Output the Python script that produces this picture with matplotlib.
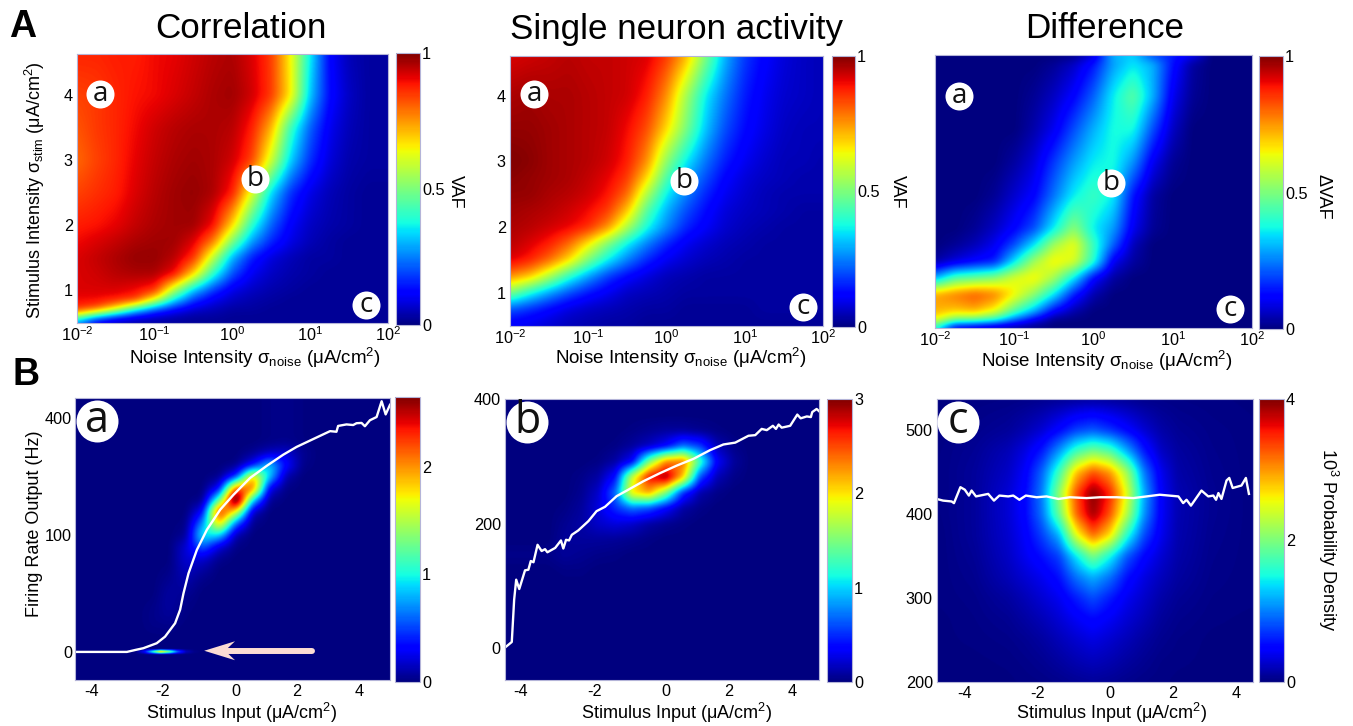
import numpy as np
import matplotlib
matplotlib.use('Agg')
import matplotlib.pyplot as plt
from matplotlib.cm import ScalarMappable
from matplotlib.colors import Normalize

# panel A grids, rows go from low to high stimulus
log_noise = [-2,-1.75,-1.5,-1.25,-1,-.75,-.5,-.25,0,.25,.5,.75,1,1.25,1.5,1.75,2]

corr_stim = [.5,.6,.7,.85,1,1.25,1.5,1.75,2,2.5,3,3.5,4,4.6]
corr_vaf = [
 [.2,.06,.03,.02,.02,.02,.02,.02,.02,.02,.02,.02,.02,.02,.02,.02,.02],
 [.55,.32,.18,.12,.08,.05,.03,.03,.02,.02,.02,.02,.02,.02,.02,.02,.02],
 [.86,.8,.62,.36,.2,.12,.07,.05,.03,.03,.02,.02,.02,.02,.02,.02,.02],
 [.9,.9,.88,.85,.62,.35,.18,.1,.06,.04,.03,.02,.02,.02,.02,.02,.02],
 [.92,.92,.92,.9,.86,.56,.32,.18,.09,.06,.04,.03,.02,.02,.02,.02,.02],
 [.92,.93,.95,.96,.96,.9,.68,.4,.2,.1,.06,.04,.03,.02,.02,.02,.02],
 [.92,.94,.96,.98,.98,.95,.86,.58,.3,.15,.08,.05,.03,.03,.02,.02,.02],
 [.9,.92,.94,.96,.97,.97,.92,.78,.5,.28,.16,.09,.05,.03,.02,.02,.02],
 [.88,.89,.91,.94,.96,.97,.97,.9,.68,.4,.22,.11,.06,.04,.03,.02,.02],
 [.84,.86,.88,.92,.95,.97,.98,.96,.88,.62,.34,.17,.09,.05,.03,.02,.02],
 [.8,.84,.87,.91,.94,.96,.97,.96,.93,.84,.6,.33,.17,.08,.04,.03,.03],
 [.82,.85,.87,.9,.93,.95,.96,.96,.95,.88,.72,.42,.22,.1,.05,.03,.03],
 [.84,.85,.87,.89,.9,.92,.94,.96,.97,.93,.85,.66,.32,.13,.06,.03,.03],
 [.87,.87,.88,.88,.9,.91,.93,.95,.96,.92,.85,.65,.36,.12,.05,.03,.03],
]

single_stim = [.5,.75,1,1.25,1.5,1.75,2,2.25,2.5,2.75,3,3.5,4,4.6]
single_vaf = [
 [.1,.09,.07,.05,.04,.03,.03,.02,.02,.02,.02,.02,.02,.02,.02,.02,.02],
 [.2,.16,.12,.08,.06,.05,.04,.03,.03,.02,.02,.02,.02,.03,.03,.03,.03],
 [.5,.38,.28,.2,.14,.1,.06,.05,.04,.03,.03,.03,.03,.03,.03,.03,.03],
 [.76,.7,.56,.4,.28,.18,.12,.08,.05,.04,.03,.03,.03,.03,.03,.03,.03],
 [.92,.88,.8,.68,.5,.36,.25,.16,.1,.07,.05,.04,.03,.03,.03,.03,.03],
 [.95,.92,.88,.8,.66,.5,.36,.25,.16,.1,.07,.05,.04,.03,.03,.03,.03],
 [.96,.95,.93,.91,.87,.76,.56,.38,.26,.16,.11,.07,.05,.04,.03,.03,.03],
 [.97,.96,.95,.93,.9,.85,.7,.45,.3,.2,.13,.08,.06,.05,.04,.03,.03],
 [.98,.98,.96,.95,.93,.89,.8,.56,.36,.25,.16,.1,.07,.05,.04,.04,.04],
 [.99,.98,.97,.96,.94,.91,.85,.68,.44,.3,.2,.12,.08,.06,.05,.04,.04],
 [1.0,.99,.97,.96,.95,.93,.88,.76,.52,.36,.24,.15,.1,.07,.05,.05,.04],
 [.98,.98,.97,.96,.95,.94,.9,.83,.68,.5,.32,.2,.13,.09,.06,.05,.05],
 [.96,.97,.96,.96,.95,.94,.93,.88,.76,.55,.36,.24,.15,.1,.07,.06,.05],
 [.92,.93,.94,.95,.94,.94,.93,.92,.85,.72,.5,.3,.18,.12,.08,.06,.05],
]

diff_stim = [.5,.6,.75,1,1.25,1.5,1.75,2,2.5,3,3.5,4,4.5,4.6]
diff_vaf = [
 [.35,.05,.02,0,0,0,0,0,0,0,0,0,0,0,0,0,0],
 [.62,.45,.42,.35,.2,.08,0,0,0,0,0,0,0,0,0,0,0],
 [.72,.7,.72,.64,.45,.3,.12,.04,0,0,0,0,0,0,0,0,0],
 [.74,.78,.82,.78,.65,.52,.35,.15,.04,0,0,0,0,0,0,0,0],
 [.3,.45,.48,.52,.62,.66,.55,.35,.12,.03,0,0,0,0,0,0,0],
 [.03,.08,.12,.15,.35,.55,.66,.62,.4,.1,.03,0,0,0,0,0,0],
 [0,.02,.05,.1,.2,.35,.55,.64,.42,.22,.05,0,0,0,0,0,0],
 [0,0,.02,.06,.12,.2,.36,.52,.36,.28,.1,.02,0,0,0,0,0],
 [0,0,0,.02,.07,.12,.24,.36,.42,.36,.14,.03,0,0,0,0,0],
 [0,0,0,0,.03,.08,.18,.28,.36,.38,.27,.1,.02,0,0,0,0],
 [0,0,0,0,0,.04,.1,.2,.3,.38,.38,.2,.06,0,0,0,0],
 [0,0,0,0,0,.02,.06,.12,.22,.36,.46,.3,.1,.02,0,0,0],
 [0,0,0,0,0,0,.02,.06,.14,.28,.35,.3,.14,.03,0,0,0],
 [0,0,0,0,0,0,0,.01,.08,.3,.33,.2,.15,.1,0,0,0],
]

# panel B, a: y is square root of the rate because the axis is like that
a_x = [-3,-2.5,-2,-1.5,-1,-.5,0,.5,1,1.5,2,2.5,3]
a_root = [1,2,3,4,5,6,7,8,9,10,11,12,13,14,15,16,17,18]
a_dens = [
 [0,0,0,0,0,0,0,0,0,0,0,0,0],
 [0,.02,.02,0,0,0,0,0,0,0,0,0,0],
 [0,.03,.06,.01,0,0,0,0,0,0,0,0,0],
 [0,.02,.08,.02,0,0,0,0,0,0,0,0,0],
 [0,0,.08,.05,0,0,0,0,0,0,0,0,0],
 [0,0,.05,.1,.02,0,0,0,0,0,0,0,0],
 [0,0,.02,.15,.08,0,0,0,0,0,0,0,0],
 [0,0,0,.2,.2,.04,0,0,0,0,0,0,0],
 [0,0,0,.2,.6,.2,.02,0,0,0,0,0,0],
 [0,0,0,.05,1.0,.9,.1,0,0,0,0,0,0],
 [0,0,0,.02,.7,1.9,.6,.03,0,0,0,0,0],
 [0,0,0,0,.3,2.4,1.7,.15,0,0,0,0,0],
 [0,0,0,0,.03,1.2,3.1,.9,.05,0,0,0,0],
 [0,0,0,0,0,.3,2.2,2.2,.25,.02,0,0,0],
 [0,0,0,0,0,.03,.4,1.9,.9,.1,0,0,0],
 [0,0,0,0,0,0,.02,.3,.9,.35,.03,0,0],
 [0,0,0,0,0,0,0,.05,.15,.2,.05,0,0],
 [0,0,0,0,0,0,0,0,.02,.03,.01,0,0],
]
strip_x = [-3,-2.75,-2.5,-2.25,-2,-1.75,-1.5,-1.25,-1]
strip_root = [-.25,-.1,0,.1,.25]
strip_dens = [
 [0,0,0,0,0,0,0,0,0],
 [.01,.2,.7,1.2,.9,.4,.1,.02,0],
 [.02,.3,1.0,1.8,1.3,.6,.15,.03,0],
 [.01,.2,.7,1.2,.9,.4,.1,.02,0],
 [0,0,0,0,0,0,0,0,0],
]

b_x = [-3.5,-3,-2.5,-2,-1.5,-1,-.5,0,.5,1,1.5,2,2.5,3]
b_rate = [100,125,150,175,200,225,250,275,300,325,350,375]
b_dens = [
 [0,0,0,0,0,0,0,0,0,0,0,0,0,0],
 [0,.02,.02,0,0,0,0,0,0,0,0,0,0,0],
 [.03,.07,.05,.03,.02,0,0,0,0,0,0,0,0,0],
 [0,.07,.08,.08,.07,.05,.02,0,0,0,0,0,0,0],
 [0,.05,.1,.2,.25,.2,.1,.05,.02,0,0,0,0,0],
 [0,.02,.08,.25,.5,.7,.6,.35,.1,.03,0,0,0,0],
 [0,0,.05,.2,.7,2.0,2.2,1.5,.5,.12,.03,0,0,0],
 [0,0,.03,.1,.4,1.8,2.7,2.95,2.1,.6,.15,.03,0,0],
 [0,0,0,.02,.1,.35,1.5,2.3,2.4,1.3,.35,.08,0,0],
 [0,0,0,0,.02,.08,.18,.35,.7,.55,.15,.03,0,0],
 [0,0,0,0,0,.02,.05,.08,.08,.05,.02,0,0,0],
 [0,0,0,0,0,0,0,0,0,0,0,0,0,0],
]

c_x = [-5,-4,-3,-2.5,-2,-1.5,-1,-.5,0,.5,1,1.5,2,3,4.2]
c_rate = [200,225,250,275,300,325,350,375,400,425,450,475,500,537]
c_dens = [
 [.01,.01,.01,.02,.03,.05,.08,.1,.08,.05,.03,.02,.01,.01,.01],
 [.01,.01,.02,.04,.07,.12,.18,.22,.18,.12,.07,.03,.02,.01,.01],
 [.01,.02,.04,.07,.12,.2,.28,.35,.28,.2,.12,.06,.03,.01,.01],
 [.01,.03,.07,.13,.2,.3,.42,.52,.42,.3,.2,.1,.05,.02,.01],
 [.02,.04,.12,.2,.3,.4,.6,.8,.6,.4,.27,.15,.08,.03,.02],
 [.02,.06,.2,.3,.4,.55,.95,1.2,.95,.55,.35,.22,.12,.04,.02],
 [.02,.08,.25,.4,.55,.75,1.4,2.0,1.5,.85,.5,.3,.15,.05,.02],
 [.02,.1,.28,.45,.75,1.2,2.5,3.2,2.7,1.6,.8,.4,.17,.06,.02],
 [.03,.1,.3,.5,.95,1.9,3.2,3.9,3.3,2.3,1.1,.45,.18,.07,.02],
 [.03,.1,.3,.5,1.0,2.1,3.3,4.0,3.5,2.5,1.2,.45,.18,.07,.02],
 [.03,.1,.25,.45,.9,1.7,2.8,3.3,3.0,2.2,1.0,.4,.15,.06,.02],
 [.03,.08,.2,.35,.6,1.1,1.7,2.0,1.8,1.2,.6,.25,.12,.05,.02],
 [.02,.05,.1,.18,.3,.5,.75,.85,.7,.5,.3,.15,.08,.04,.02],
 [.01,.02,.03,.04,.06,.08,.1,.12,.1,.08,.05,.04,.03,.02,.01],
]

# tuning curves
a_line_x = [-4.8,-3.26,-3.0,-2.77,-2.37,-2.12,-1.82,-1.67,-1.57,-1.42,-1.17,-.87,-.47,-.08,.42,.92,1.41,1.81,2.41,2.81,3.0,3.05,3.3,3.5,3.6,3.75,3.85,4.0,4.2,4.35,4.47,4.6]
a_line_y = [0,0,.03,.1,.55,1.7,6,13,25,45,76,109,148,180,221,253,284,307,336,356,354,373,378,376,382,383,372,392,403,459,412,446]

b_line_x = [-4.73,-4.55,-4.48,-4.42,-4.33,-4.16,-4.06,-3.99,-3.91,-3.79,-3.67,-3.57,-3.5,-3.27,-3.1,-3.03,-2.95,-2.86,-2.78,-2.59,-2.29,-2.05,-1.8,-1.46,-1.16,-.67,-.18,.31,.81,1.3,1.69,2.04,2.43,2.63,2.82,2.97,3.15,3.24,3.32,3.41,3.66,3.87,3.97,4.15,4.27,4.31,4.44,4.52]
b_line_y = [2,10,78,110,95,125,126,140,138,166,156,159,154,161,173,160,174,173,182,189,204,220,227,244,253,268,281,293,304,318,327,330,341,342,352,350,357,352,359,354,357,375,369,372,371,379,384,380]

c_line_x = [-5.11,-4.92,-4.67,-4.6,-4.41,-4.28,-4.16,-4.08,-3.95,-3.59,-3.42,-3.26,-3.0,-2.85,-2.67,-2.48,-2.16,-1.87,-1.52,-1.18,-.69,-.29,.2,.69,1.08,1.47,2.02,2.16,2.26,2.39,2.7,2.9,3.05,3.13,3.2,3.29,3.44,3.52,3.62,3.88,4.01,4.1]
c_line_y = [418,416,415,413,432,429,422,428,421,424,416,422,421,422,417,422,420,421,418,420,419,420,420,419,421,423,421,413,417,410,428,421,422,417,425,418,440,443,431,434,443,424]

# tick labels in B do not sit evenly in the figure
tick_labels_b = ['-4','-2','0','2','4']
ticks_a = [-4.33,-2.18,0,1.82,3.67]
ticks_bc = [-4.28,-2.12,0,1.86,3.72]

W, H = 1353, 726
plt.rcParams['font.family'] = ['Liberation Sans', 'DejaVu Sans']
plt.rcParams['mathtext.fontset'] = 'custom'
plt.rcParams['mathtext.rm'] = 'Liberation Sans'
plt.rcParams['mathtext.it'] = 'Liberation Sans:italic'
plt.rcParams['mathtext.bf'] = 'Liberation Sans:bold'
plt.rcParams['mathtext.default'] = 'regular'
EDGE = '#b4b4d8'
TICK = 11.7
LAB = 13

fig = plt.figure(figsize=(W/100, H/100), dpi=100)


def px(x, y):
    return x/W, 1-y/H


def box(x0, y0, x1, y1):
    ax = fig.add_axes([x0/W, 1-y1/H, (x1-x0)/W, (y1-y0)/H])
    ax.tick_params(length=0, labelsize=TICK, pad=3)
    for s in ax.spines.values():
        s.set_color(EDGE)
        s.set_linewidth(.8)
    return ax


def fine(z, xs, ys, xlim, ylim, k=9, nx=500, ny=400):
    # put the read grid on a fine mesh and soften it a bit
    gx = np.linspace(xlim[0], xlim[1], nx)
    gy = np.linspace(ylim[0], ylim[1], ny)
    t = np.array([np.interp(gx, xs, r) for r in z])
    out = np.array([np.interp(gy, ys, c) for c in t.T]).T
    ker = np.ones(k)/k
    for _ in range(2):
        pad = np.pad(out, k, mode='edge')
        pad = np.apply_along_axis(lambda v: np.convolve(v, ker, 'same'), 0, pad)
        pad = np.apply_along_axis(lambda v: np.convolve(v, ker, 'same'), 1, pad)
        out = pad[k:-k, k:-k]
    return out


def heat(ax, img, xlim, ylim, vmax):
    ax.imshow(img, origin='lower', extent=[xlim[0], xlim[1], ylim[0], ylim[1]],
              aspect='auto', cmap='jet', vmin=0, vmax=vmax, interpolation='bilinear')
    ax.set_xlim(xlim)
    ax.set_ylim(ylim)


def cbar(x0, y0, x1, y1, vmax, ticks, labels):
    cax = box(x0, y0, x1, y1)
    cb = fig.colorbar(ScalarMappable(Normalize(0, vmax), 'jet'), cax=cax)
    cb.set_ticks(ticks)
    cb.set_ticklabels(labels)
    cb.ax.tick_params(length=0, labelsize=TICK, pad=1.5)
    cb.outline.set_edgecolor(EDGE)
    cb.outline.set_linewidth(.8)


def mark(ax, x, y, letter, diam, size):
    fx, fy = px(x, y)
    ax.scatter([fx], [fy], s=(diam*.72)**2, color='white', linewidths=0,
               transform=fig.transFigure, clip_on=False, zorder=6)
    fig.text(fx, fy, letter, ha='center', va='center', fontsize=size,
             family='Open Sans', color='#111111', zorder=7)


def label(x, y, s, size=LAB, rot=0, **kw):
    fx, fy = px(x, y)
    fig.text(fx, fy, s, ha='center', va='center', fontsize=size, rotation=rot, **kw)


noise_label = 'Noise Intensity σ$_{noise}$ (μA/cm$^2$)'
input_label = 'Stimulus Input (μA/cm$^2$)'
dec_ticks = [-2, -1, 0, 1, 2]
dec_labels = ['10$^{-2}$', '10$^{-1}$', '10$^{0}$', '10$^{1}$', '10$^{2}$']

# row A
ax = box(77, 54, 388, 323)
xl, yl = (-2, 2), (.5, 4.63)
heat(ax, fine(corr_vaf, log_noise, corr_stim, xl, yl, k=15), xl, yl, 1)
ax.set_xticks(dec_ticks, dec_labels)
ax.set_yticks([1, 2, 3, 4])
ax.tick_params(axis='x', pad=2)
mark(ax, 100, 94, 'a', 28, 20)
mark(ax, 255, 179, 'b', 28, 20)
mark(ax, 366, 305, 'c', 28, 20)
cbar(396, 53, 420, 325, 1, [0, .5, 1], ['0', '0.5', '1'])

ax = box(510, 56, 823, 326)
xl, yl = (-2, 2), (.5, 4.6)
heat(ax, fine(single_vaf, log_noise, single_stim, xl, yl, k=17), xl, yl, 1)
ax.set_xticks(dec_ticks, dec_labels)
ax.set_yticks([1, 2, 3, 4])
ax.tick_params(axis='x', pad=2)
mark(ax, 534, 94, 'a', 28, 20)
mark(ax, 684, 181, 'b', 28, 20)
mark(ax, 803, 307, 'c', 28, 20)
cbar(832, 56, 855, 327, 1, [0, .5, 1], ['0', '0.5', '1'])

ax = box(935, 55, 1252, 328)
xl, yl = (-2, 2), (.5, 4.62)
heat(ax, fine(diff_vaf, log_noise, diff_stim, xl, yl, k=13), xl, yl, 1)
ax.set_xticks(dec_ticks, dec_labels)
ax.set_yticks([])
ax.tick_params(axis='x', pad=2)
mark(ax, 959, 96, 'a', 28, 20)
mark(ax, 1111, 183, 'b', 28, 20)
mark(ax, 1230, 309, 'c', 28, 20)
cbar(1259, 56, 1283, 329, 1, [0, .5, 1], ['0', '0.5', '1'])

# row B
ax = box(75, 398, 390, 680)
xl, yl = (-4.81, 4.6), (-2.4, 21.7)
img = fine(a_dens, a_x, a_root, xl, yl, k=13)
img = np.maximum(img, fine(strip_dens, strip_x, strip_root, xl, yl, k=1, ny=800)[::2])
heat(ax, img, xl, yl, 2.65)
ax.plot(a_line_x, np.sqrt(a_line_y), color='white', lw=1.7)
# pink arrow, tail plus notched head
ax.plot([-.3, 2.27], [0.1, 0.1], color='#fbdcd4', lw=4.3, solid_capstyle='round')
ax.fill([-.95, -.03, -.33, -.03], [0.1, .91, 0.1, -.71], color='#fbdcd4', lw=0, zorder=3)
ax.set_xticks(ticks_a, tick_labels_b)
ax.set_yticks([0, 10, 20], ['0', '100', '400'])
ax.tick_params(axis='y', pad=2)
mark(ax, 97, 421, 'a', 42, 31)
cbar(395, 397, 420, 682, 2.65, [0, 1, 2], ['0', '1', '2'])

ax = box(505, 399, 819, 680)
xl, yl = (-4.75, 4.51), (-51, 400)
heat(ax, fine(b_dens, b_x, b_rate, xl, yl, k=9), xl, yl, 3)
ax.plot(b_line_x, b_line_y, color='white', lw=1.7)
ax.set_xticks(ticks_bc, tick_labels_b)
ax.set_yticks([0, 200, 400])
mark(ax, 527, 422, 'b', 42, 31)
cbar(827, 399, 852, 682, 3, [0, 1, 2, 3], ['0', '1', '2', '3'])

ax = box(937, 399, 1253, 682)
xl, yl = (-5.1, 4.22), (200, 537)
heat(ax, fine(c_dens, c_x, c_rate, xl, yl, k=11), xl, yl, 4)
ax.plot(c_line_x, c_line_y, color='white', lw=1.7)
ax.set_xticks(ticks_bc, tick_labels_b)
ax.set_yticks([200, 300, 400, 500])
mark(ax, 958, 422, 'c', 42, 31)
cbar(1259, 399, 1284, 682, 4, [0, 2, 4], ['0', '2', '4'])

# figure text
label(241, 29, 'Correlation', size=25.2)
label(676, 29, 'Single neuron activity', size=25.2)
label(1105, 29, 'Difference', size=25.2)
label(23, 27, 'A', size=27, fontweight='bold')
label(26, 375, 'B', size=27, fontweight='bold')
label(255, 358, noise_label, size=13.5)
label(681, 358, noise_label, size=13.5)
label(1107, 361, noise_label, size=13.5)
label(35, 190, 'Stimulus Intensity σ$_{stim}$ (μA/cm$^2$)', rot=90)
label(35, 524, 'Firing Rate Output (Hz)', rot=90)
label(242, 713, input_label)
label(677, 713, input_label)
label(1112, 713, input_label)
label(455, 192, 'VAF', rot=270)
label(897, 192, 'VAF', rot=270)
label(1323, 197, 'ΔVAF', rot=270)
label(1328, 540, '10$^3$ Probability Density', rot=270)

fig.savefig('out.png', dpi=100)
